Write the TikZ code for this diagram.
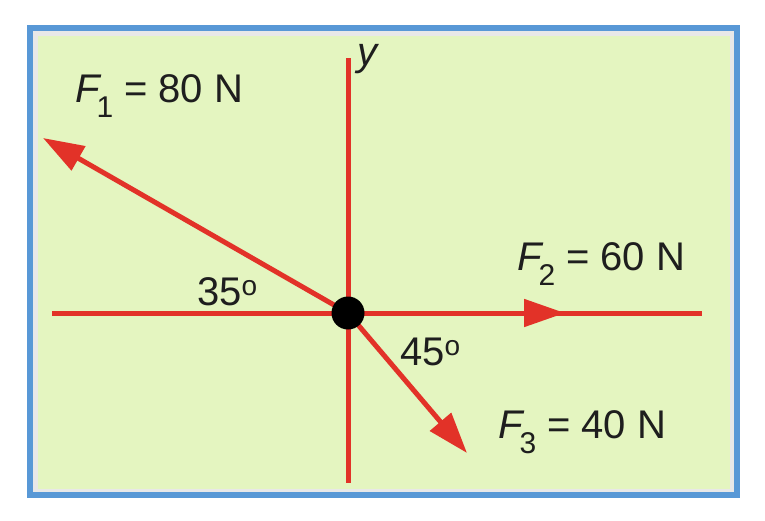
\documentclass[tikz,border=0pt]{standalone}
\usepackage{fontspec}
\setmainfont{Liberation Sans}
\usetikzlibrary{arrows.meta}
\definecolor{frameblue}{RGB}{88,152,214}
\definecolor{bandgrey}{RGB}{232,232,232}
\definecolor{bggreen}{RGB}{228,245,192}
\definecolor{forcered}{RGB}{226,50,40}
\definecolor{txt}{RGB}{30,30,30}
\newcommand{\Fsb}[1]{\textit{F}\kern-5pt\raisebox{-15pt}{\fontsize{30}{30}\selectfont #1}}
\begin{document}
\begin{tikzpicture}[x=1pt,y=-1pt,
  axisline/.style={draw=forcered,line width=5pt},
  force/.style={draw=forcered,line width=5pt,-{Triangle[length=41pt,width=27pt]}},
  lbl/.style={text=txt,font=\fontsize{40}{42}\selectfont,inner sep=0pt,anchor=base west}]
\useasboundingbox (0,0) rectangle (765,520);
\fill[white] (0,0) rectangle (765,520);
\fill[bandgrey] (30,28) rectangle (736.5,494.5);
\fill[bggreen] (38,36) rectangle (730,489);
\draw[frameblue,line width=6pt] (30,28) rectangle (736.5,494.5);
% axes
\coordinate (o) at (348,313);
\coordinate (xl) at (52,313);
\coordinate (xr) at (702,313);
\coordinate (yt) at (348,58);
\coordinate (yb) at (348,483);
\coordinate (f1) at (43,138);
\coordinate (f2) at (565,313);
\coordinate (f3) at (467,453);
\draw[axisline] (xl) -- (xr);
\draw[axisline] (yt) -- (yb);
\draw[force] (o) -- (f1);
\draw[force] (o) -- (f2);
\draw[force] (o) -- (f3);
\node[circle,fill=black,minimum size=33pt,inner sep=0pt] (O) at (o) {};
% labels
\node[lbl] (F1) at (75,102) {\Fsb{1} = 80 N};
\node[lbl] (F2) at (517,270) {\Fsb{2} = 60 N};
\node[lbl] (F3) at (498,438) {\Fsb{3} = 40 N};
\node[lbl] (a35) at (197,305) {35\textsuperscript{o}};
\node[lbl] (a45) at (400,365) {45\textsuperscript{o}};
\node[lbl] (ylab) at (357,65) {\textit{y}};
\end{tikzpicture}
\end{document}
